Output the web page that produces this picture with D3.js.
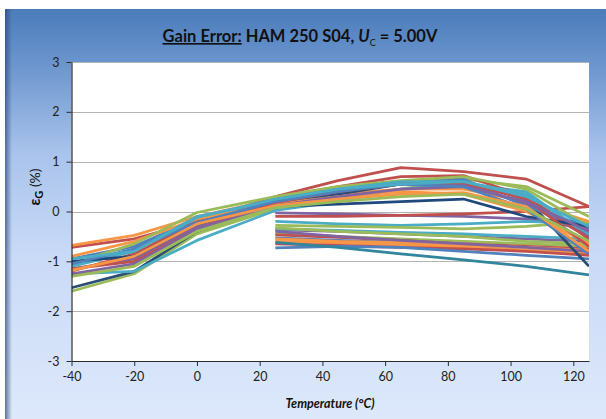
<!DOCTYPE html>
<html>
<head>
<meta charset="utf-8">
<script src="https://cdn.jsdelivr.net/npm/d3@7"></script>
<style>
body { margin: 0; background: #fff; }
svg { display: block; }
</style>
</head>
<body>
<script>
// temperatures (°C)
var tempsFull = [-40, -20, 0, 25, 45, 65, 85, 105, 125];
var tempsHot = [25, 45, 65, 85, 105, 125];

// gain error (%) sweeps from -40 to 125
var sweepFull = [
	[-0.72, -0.55, -0.20, 0.30, 0.62, 0.88, 0.80, 0.65, 0.10],
	[-0.68, -0.48, -0.10, 0.25, 0.35, 0.45, 0.45, 0.20, -0.20],
	[-1.60, -1.25, -0.45, 0.05, 0.25, 0.45, 0.65, 0.50, -0.10],
	[-1.53, -1.20, -0.40, 0.15, 0.35, 0.55, 0.60, 0.25, -1.10],
	[-1.25, -1.20, -0.58, 0.02, 0.20, 0.45, 0.55, 0.40, -0.50],
	[-1.15, -0.95, -0.30, 0.20, 0.45, 0.55, 0.55, 0.15, -0.50],
	[-1.20, -0.85, -0.20, 0.28, 0.50, 0.70, 0.72, 0.30, -0.55],
	[-0.95, -0.70, -0.15, 0.25, 0.45, 0.60, 0.65, 0.10, -0.30],
	[-0.90, -0.60, -0.15, 0.15, 0.30, 0.40, 0.35, 0.00, -0.65],
	[-1.05, -0.65, -0.02, 0.30, 0.50, 0.62, 0.70, 0.45, -0.30],
	[-1.10, -0.80, -0.10, 0.22, 0.45, 0.60, 0.60, 0.35, -0.45],
	[-1.00, -0.90, -0.25, 0.10, 0.15, 0.20, 0.25, -0.10, -0.30],
	[-1.15, -1.00, -0.35, 0.18, 0.40, 0.55, 0.58, 0.25, -0.70],
	[-1.25, -1.05, -0.35, 0.12, 0.30, 0.45, 0.50, 0.20, -0.40],
	[-1.05, -0.75, -0.22, 0.20, 0.40, 0.55, 0.50, 0.05, -0.85],
	[-0.95, -0.80, -0.12, 0.25, 0.45, 0.55, 0.60, 0.30, -0.30],
	[-1.18, -0.90, -0.25, 0.12, 0.25, 0.35, 0.38, 0.10, -0.80],
	[-1.30, -1.10, -0.40, 0.08, 0.20, 0.30, 0.35, 0.05, -0.60]
];
var colorsFull = ["#C0504D", "#F79646", "#9BBB59", "#2C4D75", "#4BACC6", "#8064A2",
	"#C0504D", "#4F81BD", "#F79646", "#9BBB59", "#4BACC6", "#1F497D",
	"#C0504D", "#8064A2", "#4F81BD", "#4BACC6", "#F79646", "#9BBB59"];

// gain error (%) sweeps from 25 to 125
var sweepHot = [
	[-0.03, -0.05, -0.08, -0.10, -0.15, -0.35],
	[-0.10, -0.10, -0.08, -0.05, 0.00, 0.10],
	[-0.20, -0.25, -0.28, -0.25, -0.20, -0.25],
	[-0.28, -0.30, -0.32, -0.35, -0.30, -0.20],
	[-0.37, -0.40, -0.45, -0.50, -0.55, -0.60],
	[-0.35, -0.38, -0.42, -0.45, -0.50, -0.55],
	[-0.45, -0.50, -0.55, -0.60, -0.65, -0.70],
	[-0.47, -0.52, -0.58, -0.65, -0.70, -0.75],
	[-0.53, -0.58, -0.62, -0.70, -0.78, -0.85],
	[-0.60, -0.63, -0.67, -0.72, -0.78, -0.82],
	[-0.65, -0.68, -0.72, -0.75, -0.80, -0.88],
	[-0.73, -0.70, -0.72, -0.80, -0.88, -0.95],
	[-0.62, -0.72, -0.85, -0.97, -1.10, -1.27],
	[-0.55, -0.60, -0.62, -0.68, -0.72, -0.78],
	[-0.40, -0.50, -0.58, -0.65, -0.72, -0.80],
	[-0.33, -0.40, -0.45, -0.50, -0.60, -0.65]
];
var colorsHot = ["#8064A2", "#C0504D", "#4BACC6", "#9BBB59", "#8064A2", "#4BACC6",
	"#9BBB59", "#C0504D", "#4F81BD", "#F79646", "#C0504D", "#4F81BD",
	"#31859C", "#F79646", "#8064A2", "#9BBB59"];

var xTicks = [-40, -20, 0, 20, 40, 60, 80, 100, 120];
var yTicks = [-3, -2, -1, 0, 1, 2, 3];

var width = 606, height = 419;
var plot = { left: 71.5, right: 589, top: 62, bottom: 361 };

var svg = d3.select("body").append("svg")
	.attr("width", width)
	.attr("height", height);

var defs = svg.append("defs");
var bg = defs.append("linearGradient")
	.attr("id", "bg")
	.attr("x1", 0).attr("y1", 0).attr("x2", 0).attr("y2", 1);
[[0, "#4a7cba"], [0.13, "#6a94cd"], [0.35, "#a9c3ec"], [0.6, "#c9daf7"], [1, "#dde8fb"]]
	.forEach(function (s) {
		bg.append("stop").attr("offset", s[0]).attr("stop-color", s[1]);
	});
var edge = defs.append("linearGradient")
	.attr("id", "edge")
	.attr("x1", 0).attr("y1", 0).attr("x2", 1).attr("y2", 0);
edge.append("stop").attr("offset", 0).attr("stop-color", "#2e4d78").attr("stop-opacity", 0.75);
edge.append("stop").attr("offset", 1).attr("stop-color", "#2e4d78").attr("stop-opacity", 0);

// chart area
svg.append("rect")
	.attr("x", 5).attr("y", 9)
	.attr("width", width - 5).attr("height", height - 9)
	.attr("fill", "url(#bg)");
svg.append("rect")
	.attr("x", 5).attr("y", 9)
	.attr("width", 7).attr("height", height - 9)
	.attr("fill", "url(#edge)");

// plot area
svg.append("rect")
	.attr("x", plot.left).attr("y", plot.top)
	.attr("width", plot.right - plot.left).attr("height", plot.bottom - plot.top)
	.attr("fill", "#fff");

var x = d3.scaleLinear().domain([-40, 125]).range([plot.left, plot.right]);
var y = d3.scaleLinear().domain([-3, 3]).range([plot.bottom, plot.top]);

// gridlines
svg.append("g")
	.selectAll("line")
	.data(yTicks.filter(function (d) { return d > -3; }))
	.enter()
	.append("line")
	.attr("x1", plot.left).attr("x2", plot.right)
	.attr("y1", function (d) { return Math.round(y(d)) + 0.5; })
	.attr("y2", function (d) { return Math.round(y(d)) + 0.5; })
	.attr("stroke", "#b3b3b3")
	.attr("stroke-width", 1.2);

// series
var clip = defs.append("clipPath").attr("id", "clip");
clip.append("rect")
	.attr("x", plot.left).attr("y", plot.top)
	.attr("width", plot.right - plot.left).attr("height", plot.bottom - plot.top);

var lineFull = d3.line()
	.x(function (d, i) { return x(tempsFull[i]); })
	.y(function (d) { return y(d); });
var lineHot = d3.line()
	.x(function (d, i) { return x(tempsHot[i]); })
	.y(function (d) { return y(d); });

var series = svg.append("g").attr("clip-path", "url(#clip)");

series.selectAll("path.hot")
	.data(sweepHot)
	.enter()
	.append("path")
	.attr("class", "hot")
	.attr("d", lineHot)
	.attr("fill", "none")
	.attr("stroke", function (d, i) { return colorsHot[i]; })
	.attr("stroke-width", 2.75)
	.attr("stroke-linejoin", "round");

series.selectAll("path.full")
	.data(sweepFull)
	.enter()
	.append("path")
	.attr("class", "full")
	.attr("d", lineFull)
	.attr("fill", "none")
	.attr("stroke", function (d, i) { return colorsFull[i]; })
	.attr("stroke-width", 2.75)
	.attr("stroke-linejoin", "round");

// axes
var font = "Lato, 'Open Sans', sans-serif";
var fmt = function (d) { return String(d); };

var xAxis = svg.append("g")
	.attr("transform", "translate(0," + plot.bottom + ")")
	.call(d3.axisBottom(x).tickValues(xTicks).tickFormat(fmt).tickSize(5).tickSizeOuter(0).tickPadding(6));
var yAxis = svg.append("g")
	.attr("transform", "translate(" + plot.left + ",0)")
	.call(d3.axisLeft(y).tickValues(yTicks).tickFormat(fmt).tickSize(5).tickSizeOuter(0).tickPadding(7));

[xAxis, yAxis].forEach(function (a) {
	a.select(".domain").attr("stroke", "#2b2b2b").attr("stroke-width", 1.2);
	a.selectAll(".tick line").attr("stroke", "#2b2b2b");
	a.selectAll(".tick text")
		.attr("fill", "#222")
		.style("font-family", font)
		.style("font-size", "12.5px");
});

// titles
var title = svg.append("text")
	.attr("x", 300)
	.attr("y", 42)
	.attr("text-anchor", "middle")
	.style("font-family", font)
	.style("font-size", "16.5px")
	.style("font-weight", "bold")
	.attr("fill", "#111");
title.append("tspan").text("Gain Error:").style("text-decoration", "underline");
title.append("tspan").text(" HAM 250 S04, ");
title.append("tspan").text("U").style("font-style", "italic");
title.append("tspan").text("C").attr("dy", 4).style("font-size", "9px").style("font-weight", "normal");
title.append("tspan").text(" = 5.00V").attr("dy", -4);

var yLabel = svg.append("text")
	.attr("transform", translate(40, 187) + " rotate(-90)")
	.attr("text-anchor", "middle")
	.style("font-family", font)
	.style("font-size", "15px")
	.style("font-weight", "bold")
	.attr("fill", "#111");
yLabel.append("tspan").text("ε");
yLabel.append("tspan").text("G").attr("dy", 3).style("font-size", "11px");
yLabel.append("tspan").text(" (%)").attr("dy", -3).style("font-weight", "normal").style("font-size", "14px");

svg.append("text")
	.text("Temperature (°C)")
	.attr("x", 330)
	.attr("y", 408)
	.attr("text-anchor", "middle")
	.style("font-family", font)
	.style("font-size", "12.5px")
	.style("font-weight", "bold")
	.style("font-style", "italic")
	.attr("fill", "#111");

function translate(a, b) {
	return "translate(" + a + "," + b + ")";
}
</script>
</body>
</html>
